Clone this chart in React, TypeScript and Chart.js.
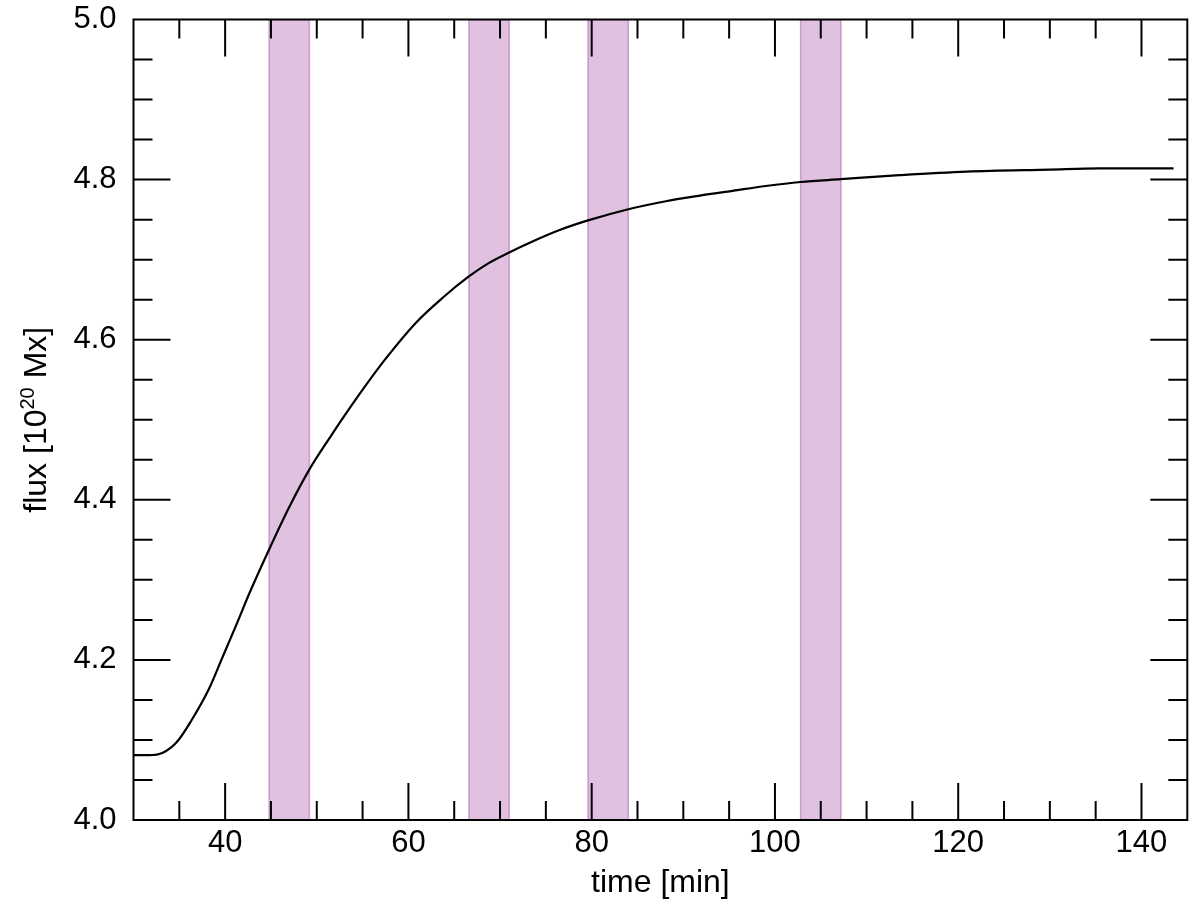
import React, { useEffect, useRef } from "react";
import { Chart, registerables } from "chart.js";

Chart.register(...registerables);

// ---- data ----
const timeMin: number[] = [
  30, 31.7, 33.2, 34.7, 36.3, 38.2, 39.7, 41.3, 42.6, 44.8, 47.0, 49.2, 51.5,
  54.6, 57.5, 60.8, 63.8, 66.6, 68.8, 71.0, 73.6, 76.5, 79.6, 84.0, 88.1, 91.8,
  95.4, 99.0, 102.8, 107.2, 113.6, 120.9, 130.0, 135.4, 143.5,
];
const fluxValues: number[] = [
  4.081, 4.081, 4.084, 4.097, 4.124, 4.163, 4.203, 4.246, 4.282, 4.338, 4.391,
  4.438, 4.479, 4.531, 4.576, 4.621, 4.653, 4.679, 4.696, 4.709, 4.723, 4.737,
  4.749, 4.763, 4.773, 4.78, 4.786, 4.792, 4.797, 4.8005, 4.8055, 4.81, 4.8125,
  4.8139, 4.8141,
];
const bandStarts: number[] = [44.8, 66.6, 79.6, 102.8];
const bandEnds: number[] = [49.2, 71.0, 84.0, 107.2];

const xTickValues: number[] = [40, 60, 80, 100, 120, 140];
const yTickValues: number[] = [4.0, 4.2, 4.4, 4.6, 4.8, 5.0];
const xMinorStep = 5;
const yMinorStep = 0.05;
const xRange: [number, number] = [30, 145];
const yRange: [number, number] = [4.0, 5.0];

const xTitle = "time [min]";
const yTitleParts: [string, string, string] = ["flux [10", "20", " Mx]"];

const FONT = "'Liberation Sans', Arial, Helvetica, sans-serif";

const framePlugin = {
  id: "frameTicks",
  afterDraw(chart: any) {
    const { ctx, chartArea: a, scales } = chart;
    const xs = scales.x;
    const ys = scales.y;
    ctx.save();
    ctx.strokeStyle = "#000";
    ctx.lineWidth = 2;
    ctx.lineCap = "butt";
    const majorLen = 37;
    const minorLen = 19;
    ctx.beginPath();
    for (let v = xRange[0]; v <= xRange[1] + 1e-9; v += xMinorStep) {
      const major = Math.abs(v / 20 - Math.round(v / 20)) < 1e-6;
      const len = major ? majorLen : minorLen;
      const px = xs.getPixelForValue(v);
      if (px <= a.left + 1 || px >= a.right - 1) continue;
      ctx.moveTo(px, a.bottom);
      ctx.lineTo(px, a.bottom - len);
      ctx.moveTo(px, a.top);
      ctx.lineTo(px, a.top + len);
    }
    for (let i = 0; i * yMinorStep <= yRange[1] - yRange[0] + 1e-9; i++) {
      const v = yRange[0] + i * yMinorStep;
      const major = i % 4 === 0;
      const len = major ? majorLen : minorLen;
      const py = ys.getPixelForValue(v);
      if (py <= a.top + 1 || py >= a.bottom - 1) continue;
      ctx.moveTo(a.left, py);
      ctx.lineTo(a.left + len, py);
      ctx.moveTo(a.right, py);
      ctx.lineTo(a.right - len, py);
    }
    ctx.stroke();
    ctx.strokeRect(a.left, a.top, a.right - a.left, a.bottom - a.top);

    // y title with superscript
    const size = 32;
    ctx.fillStyle = "#000";
    ctx.textBaseline = "alphabetic";
    ctx.textAlign = "left";
    const mainFont = `${size}px ${FONT}`;
    const supFont = `${Math.round(size * 0.62)}px ${FONT}`;
    ctx.font = mainFont;
    const w1 = ctx.measureText(yTitleParts[0]).width;
    const w3 = ctx.measureText(yTitleParts[2]).width;
    ctx.font = supFont;
    const w2 = ctx.measureText(yTitleParts[1]).width;
    const total = w1 + w2 + w3;
    const cy = (a.top + a.bottom) / 2;
    ctx.translate(46, cy);
    ctx.rotate(-Math.PI / 2);
    let x = -total / 2;
    ctx.font = mainFont;
    ctx.fillText(yTitleParts[0], x, 0);
    x += w1;
    ctx.font = supFont;
    ctx.fillText(yTitleParts[1], x, -size * 0.38);
    x += w2;
    ctx.font = mainFont;
    ctx.fillText(yTitleParts[2], x, 0);
    ctx.restore();
  },
};

export default function App() {
  const ref = useRef<HTMLCanvasElement | null>(null);

  useEffect(() => {
    if (!ref.current) return;
    const bandDatasets = bandStarts.map((s, i) => ({
      label: `band${i}`,
      data: [
        { x: s, y: yRange[0] },
        { x: s, y: yRange[1] },
        { x: bandEnds[i], y: yRange[1] },
        { x: bandEnds[i], y: yRange[0] },
      ],
      borderColor: "rgba(170,90,180,0.55)",
      backgroundColor: "rgba(153,51,153,0.3)",
      borderWidth: 1.5,
      pointRadius: 0,
      fill: { value: yRange[0] },
      tension: 0,
    }));
    const chart = new Chart(ref.current, {
      type: "line",
      data: {
        datasets: [
          {
            label: "flux",
            data: timeMin.map((t, i) => ({ x: t, y: fluxValues[i] })),
            borderColor: "#000",
            borderWidth: 2.2,
            pointRadius: 0,
            fill: false,
            cubicInterpolationMode: "monotone",
          },
          ...bandDatasets,
        ] as any,
      },
      options: {
        animation: false,
        responsive: false,
        devicePixelRatio: 1,
        parsing: false,
        layout: { padding: { top: 19.5, right: 12.7, left: 0, bottom: 0 } },
        plugins: {
          legend: { display: false },
          tooltip: { enabled: false },
        },
        scales: {
          x: {
            type: "linear",
            min: xRange[0],
            max: xRange[1],
            grid: { display: false, drawTicks: false },
            border: { display: false },
            afterBuildTicks: (s: any) => {
              s.ticks = xTickValues.map((v) => ({ value: v }));
            },
            afterFit: (s: any) => {
              s.height = 82;
              s.paddingLeft = 0;
              s.paddingRight = 0;
            },
            ticks: {
              autoSkip: false,
              maxRotation: 0,
              padding: 5,
              color: "#000",
              font: { family: FONT, size: 31 },
              callback: (v: any) => String(v),
            },
            title: {
              display: true,
              text: xTitle,
              color: "#000",
              font: { family: FONT, size: 32 },
              padding: { top: 0, bottom: 0 },
            },
          },
          y: {
            type: "linear",
            min: yRange[0],
            max: yRange[1],
            grid: { display: false, drawTicks: false },
            border: { display: false },
            afterBuildTicks: (s: any) => {
              s.ticks = yTickValues.map((v) => ({ value: v }));
            },
            afterFit: (s: any) => {
              s.width = 133.5;
              s.paddingTop = 0;
              s.paddingBottom = 0;
            },
            ticks: {
              autoSkip: false,
              padding: 17,
              color: "#000",
              font: { family: FONT, size: 31 },
              callback: (v: any) => Number(v).toFixed(1),
            },
            title: { display: false },
          },
        },
      },
      plugins: [framePlugin],
    });
    return () => chart.destroy();
  }, []);

  return (
    <div style={{ position: "fixed", left: 0, top: 0, width: 1200, height: 902, background: "#fff" }}>
      <canvas ref={ref} width={1200} height={902} style={{ display: "block", width: 1200, height: 902 }} />
    </div>
  );
}
